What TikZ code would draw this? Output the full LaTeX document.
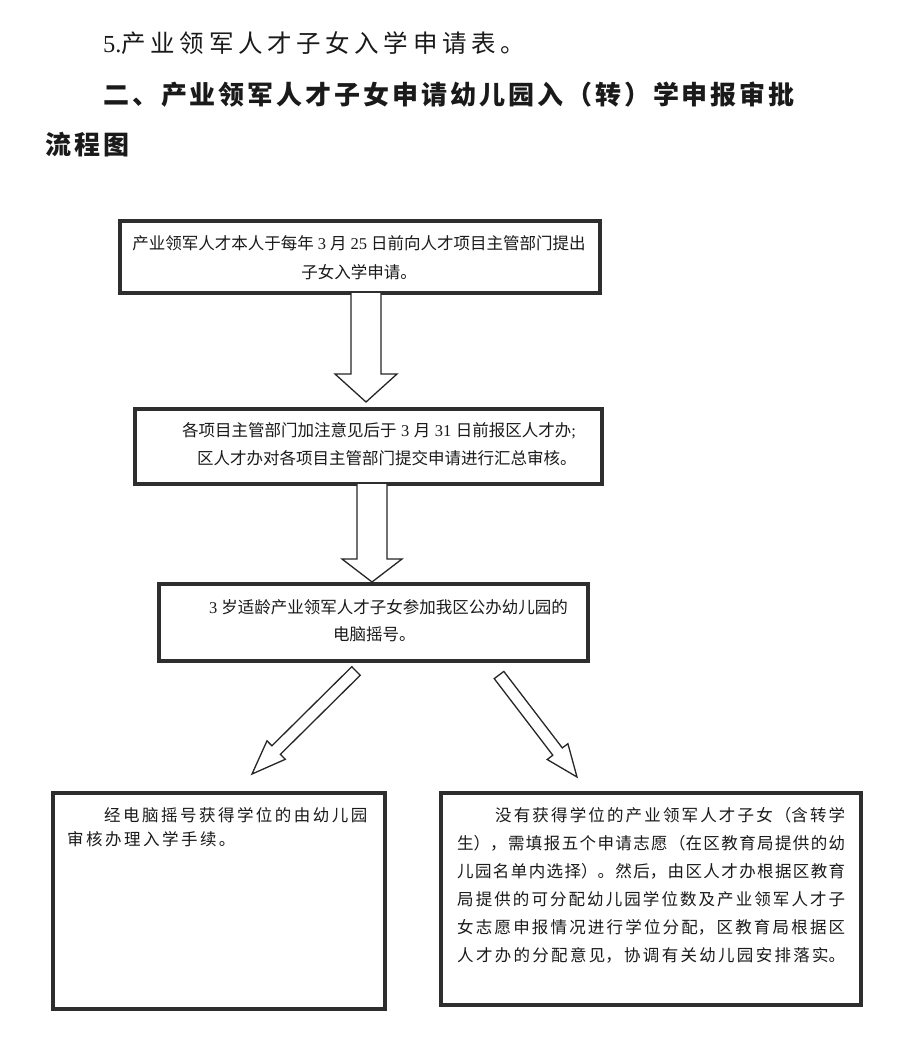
\documentclass[tikz,border=0pt]{standalone}
\usepackage{fontspec}
\setmainfont{Noto Sans CJK SC}
\newfontfamily\cjk{Noto Sans CJK SC}
\newfontfamily\cjkwide{Noto Sans CJK SC}[LetterSpace=15]
\newfontfamily\cjkhA{Noto Sans CJK SC}[LetterSpace=19]
\newfontfamily\cjkhB{Noto Sans CJK SC}[LetterSpace=11.3]
\newfontfamily\latf{Liberation Serif}
\newcommand\dg[1]{{\latf #1}}
\XeTeXlinebreaklocale "zh"
\XeTeXlinebreakskip=0pt plus 3pt
\usetikzlibrary{calc}
\definecolor{framec}{HTML}{2E2E2E}
\definecolor{arrowc}{HTML}{262626}
\definecolor{inkc}{HTML}{1A1A1A}
\tikzset{
  boxframe/.style={draw=framec, line width=4pt, rectangle, inner sep=0pt},
  boxtext/.style={inner sep=0pt, text=inkc, anchor=west, align=left},
  headA/.style={inner sep=0pt, text=inkc, anchor=west, font=\cjkhA\fontsize{24.5pt}{28pt}\selectfont},
  headB/.style={inner sep=0pt, text=inkc, anchor=west, font=\cjkhB\bfseries\fontsize{26pt}{30pt}\selectfont},
  arrowline/.style={draw=arrowc, line width=1.3pt, line join=miter, fill=white},
}
\begin{document}
\begin{tikzpicture}[x=1pt,y=-1pt]
\useasboundingbox (0,0) rectangle (901,1040);
\fill[white] (0,0) rectangle (901,1040);

% headings
\node[headA] (h1) at (103,43) {\dg{5.}产业领军人才子女入学申请表。};
\node[headB] (h2) at (103,95) {二、产业领军人才子女申请幼儿园入（转）学申报审批};
\node[headB] (h3) at (45,145) {流程图};

% boxes
\node[boxframe, minimum width=480pt, minimum height=72pt] (b1) at (360,257) {};
\node[boxframe, minimum width=467pt, minimum height=75pt] (b2) at (368.5,446.5) {};
\node[boxframe, minimum width=429pt, minimum height=77pt] (b3) at (373.5,622.5) {};
\node[boxframe, minimum width=332pt, minimum height=216pt] (b4) at (219,901) {};
\node[boxframe, minimum width=420pt, minimum height=212pt] (b5) at (651,899) {};

% texts
\node[boxtext, anchor=center, align=center, font=\cjk\fontsize{16.5pt}{29pt}\selectfont] (t1) at (359,257.5)
  {产业领军人才本人于每年\hspace{4pt}\dg{3}\hspace{4pt}月\hspace{4pt}\dg{25}\hspace{4pt}日前向人才项目主管部门提出\\子女入学申请。};
\node[boxtext, font=\cjk\fontsize{16.5pt}{28pt}\selectfont] (t2) at (182,444)
  {各项目主管部门加注意见后于\hspace{4.5pt}\dg{3}\hspace{4.5pt}月\hspace{4.5pt}\dg{31}\hspace{4.5pt}日前报区人才办\dg{;}\\\hspace*{15pt}区人才办对各项目主管部门提交申请进行汇总审核。};
\node[boxtext, font=\cjk\fontsize{16.5pt}{27pt}\selectfont] (t3) at (209,620.5)
  {\dg{3}\hspace{4pt}岁适龄产业领军人才子女参加我区公办幼儿园的\\\hspace*{124pt}电脑摇号。};
\node[boxtext, font=\cjkwide\fontsize{16.5pt}{24pt}\selectfont] (t4) at (67,827)
  {\hspace*{37pt}经电脑摇号获得学位的由幼儿园\\审核办理入学手续。};
\node[boxtext, text width=388pt, align=justify, font=\cjk\fontsize{16.5pt}{28pt}\selectfont] (t5) at (457,885)
  {\parfillskip=0pt \hspace*{38pt}没有获得学位的产业领军人才子女（含转学\linebreak%
生），需填报五个申请志愿（在区教育局提供的幼\linebreak%
儿园名单内选择）。然后，由区人才办根据区教育\linebreak%
局提供的可分配幼儿园学位数及产业领军人才子\linebreak%
女志愿申报情况进行学位分配，区教育局根据区\linebreak%
人才办的分配意见，协调有关幼儿园安排落实。\par};

% vertical block arrows
\coordinate (a1s) at (366,293);
\coordinate (a1e) at (366,402);
\draw[arrowline] ($(a1s)+(-15,0)$) -- ($(a1s)+(-15,81)$) -- ($(a1s)+(-31,81)$) -- (a1e)
  -- ($(a1s)+(31,81)$) -- ($(a1s)+(15,81)$) -- ($(a1s)+(15,0)$);
\coordinate (a2s) at (372,484);
\coordinate (a2e) at (372,582);
\draw[arrowline] ($(a2s)+(-15,0)$) -- ($(a2s)+(-15,75)$) -- ($(a2s)+(-30,75)$) -- (a2e)
  -- ($(a2s)+(30,75)$) -- ($(a2s)+(15,75)$) -- ($(a2s)+(15,0)$);

% diagonal block arrows
\coordinate (a3s) at (356,671);
\coordinate (a3e) at (252,774);
\draw[arrowline] (360.2,675.3) -- (280.4,754.3) -- (285.3,759.3) -- (a3e) -- (267.0,740.8)
  -- (271.9,745.8) -- (351.8,666.7) -- cycle;
\coordinate (a4s) at (499,675);
\coordinate (a4e) at (577,777);
\draw[arrowline] (494.2,678.6) -- (552.8,755.2) -- (547.2,759.5) -- (a4e) -- (567.9,743.7)
  -- (562.3,747.9) -- (503.8,671.4) -- cycle;
\end{tikzpicture}
\end{document}
